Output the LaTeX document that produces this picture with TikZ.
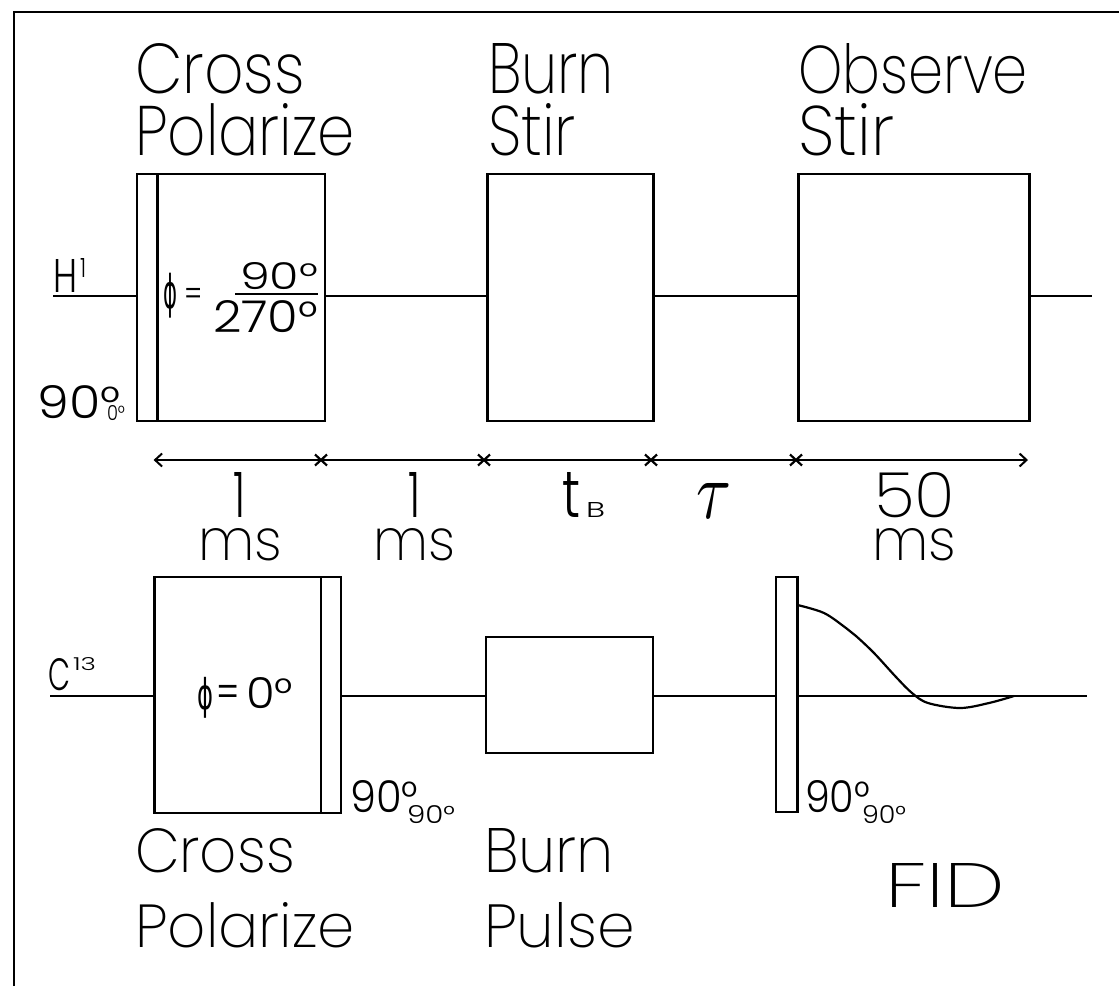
\documentclass[tikz,border=0pt]{standalone}
\usepackage{fontspec}
\usepackage{graphicx}
\usetikzlibrary{arrows.meta}
\newfontfamily\pl{Poppins ExtraLight}
\newfontfamily\plb{Poppins Light}
\newfontfamily\gr{DejaVu Sans}
\newcommand\rb[3]{\resizebox{#1pt}{#2pt}{\pl #3}}
\newcommand\rs[3]{\resizebox{#1pt}{#2pt}{\plb #3}}
\newcommand\rg[3]{\resizebox*{#1pt}{#2pt}{\gr #3}}
\begin{document}
\begin{tikzpicture}[x=1pt,y=-1pt,
  box/.style={draw,line width=2.9pt,inner sep=0pt,outer sep=0pt},
  txt/.style={inner sep=0pt,outer sep=0pt,anchor=base west},
  gtx/.style={inner sep=0pt,outer sep=0pt,anchor=north west},
  wire/.style={line width=2.6pt},
  tick/.style={line width=2.2pt},
  timeline/.style={line width=2pt,{Straight Barb[length=7pt,width=13pt]}-{Straight Barb[length=7pt,width=13pt]}}]
\useasboundingbox (0,0) rectangle (1119,986);
% frame
\coordinate (fb) at (14,986);
\coordinate (fc) at (14,12);
\coordinate (fr) at (1119,12);
\draw[line width=2.8pt] (fb) -- (fc) -- (fr);

% ---------- H row ----------
\node[box,minimum width=188pt,minimum height=247pt] (hcp) at (231,297.5) {};
\node[box,minimum width=166pt,minimum height=247pt] (hbs) at (570.5,297.5) {};
\node[box,minimum width=231pt,minimum height=247pt] (hobs) at (914,297.5) {};
\draw[line width=2.6pt] ([xshift=20.5pt]hcp.north west) -- ([xshift=20.5pt]hcp.south west);
\coordinate (hs) at (53,296);
\coordinate (he) at (1092,296);
\draw[wire] (hs) -- (hs -| hcp.west);
\draw[wire] (hs -| hcp.east) -- (hs -| hbs.west);
\draw[wire] (hs -| hbs.east) -- (hs -| hobs.west);
\draw[wire] (hs -| hobs.east) -- (he);

\node[txt] (hlab) at (53,292) {\rs{24}{33}{H}};
\node[txt] (hsup) at (80,277) {\rs{6}{19}{1}};

\node[txt] (crossT) at (135,93) {\rb{170}{50}{Cross}};
\node[txt] (polT) at (135,155) {\rb{220}{52}{Polarize}};
\node[txt] (burnT) at (488,93) {\rb{126}{50}{Burn}};
\node[txt] (stirB) at (488,155) {\rb{88}{52}{Stir}};
\node[txt] (obsT) at (798,93) {\rb{230}{50}{Observe}};
\node[txt] (stirO) at (798,155) {\rb{96}{52}{Stir}};

% phase label in H box
\node[gtx] (phiH) at (163,273) {\rg{14}{45}{ϕ}};
\node[txt] (eqH) at (184,306) {\scalebox{0.75}[1]{\fontsize{36}{36}\plb =}};
\node[txt] (numH) at (240,289) {\rs{78}{27}{90°}};
\node[txt] (denH) at (213,332) {\rs{105}{32}{270°}};
\coordinate (fbl) at (235,294);
\coordinate (fbr) at (318,294);
\draw[line width=2.4pt] (fbl) -- (fbr);

% 90 deg label left
\node[txt] (l90a) at (37.5,418) {\rs{83}{33}{90°}};
\node[txt] (l90c) at (107,420) {\rs{18}{15}{0°}};

% ---------- timeline ----------
\coordinate (tl) at (153.6,460);
\coordinate (tr) at (1028,460);
\draw[timeline] (tl) -- (tr);
\foreach \x/\n in {321/a,484/b,651/c,796/d}{
  \coordinate (tk\n) at (\x,460);
  \draw[tick] ([shift={(-6pt,-5.5pt)}]tk\n) -- ([shift={(6pt,5.5pt)}]tk\n);
  \draw[tick] ([shift={(-6pt,5.5pt)}]tk\n) -- ([shift={(6pt,-5.5pt)}]tk\n);
}
\node[txt] (one1) at (233,517) {\rs{12}{45}{1}};
\node[txt] (ms1) at (198,560) {\rb{84}{32}{ms}};
\node[txt] (one2) at (408,517) {\rs{12}{45}{1}};
\node[txt] (ms2) at (373,560) {\rb{82}{32}{ms}};
\node[txt] (tt) at (562,517) {\rs{18}{45}{t}};
\node[txt] (tsub) at (586,517) {\rs{19}{15}{B}};
\node[txt] (tau) at (696,518) {\resizebox{35pt}{35pt}{$\tau$}};
\node[txt] (fifty) at (874,517) {\rb{81}{45}{50}};
\node[txt] (ms3) at (872,560) {\rb{84}{32}{ms}};

% ---------- C row ----------
\node[box,minimum width=186.4pt,minimum height=236pt] (ccp) at (247.8,695) {};
\node[box,minimum width=167pt,minimum height=116pt] (cbp) at (569.5,695) {};
\node[box,minimum width=21.5pt,minimum height=235pt] (cp90) at (786.75,694.5) {};
\draw[line width=2.6pt] ([xshift=-20pt]ccp.north east) -- ([xshift=-20pt]ccp.south east);
\coordinate (cs) at (50,696);
\coordinate (ce) at (1087,696);
\draw[wire] (cs) -- (cs -| ccp.west);
\draw[wire] (cs -| ccp.east) -- (cs -| cbp.west);
\draw[wire] (cs -| cbp.east) -- (cs -| cp90.west);
\draw[wire] (cs -| cp90.east) -- (ce);

\node[txt] (clab) at (48,690) {\rs{22}{32}{C}};
\node[txt] (csup) at (73,670) {\rs{23}{13}{13}};

\node[gtx] (phiC) at (197,677) {\rg{16}{41}{ϕ}};
\node[txt] (eqC) at (216,708) {\scalebox{0.75}[1]{\fontsize{46}{46}\plb =}};
\node[txt] (zeroC) at (246,708) {\rs{47}{31}{0°}};

% 90 deg labels
\node[txt] (m90a) at (350,812) {\rs{68}{32}{90°}};
\node[txt] (m90c) at (407,823) {\rs{48}{18}{90°}};
\node[txt] (r90a) at (805,812) {\rs{65}{32}{90°}};
\node[txt] (r90c) at (862,823) {\rs{44}{18}{90°}};

% FID
\draw[line width=2.2pt] plot[smooth,tension=0.55] coordinates {
  (797.5,605) (824,613) (846,628) (856,636) (874,653) (896,677)
  (912,693) (928,703) (960,708) (989,703) (1014,696)};

% bottom labels
\node[txt] (crossB) at (135,872) {\rb{160}{44}{Cross}};
\node[txt] (polB) at (135,947) {\rb{220}{45}{Polarize}};
\node[txt] (burnB) at (484,872) {\rb{130}{44}{Burn}};
\node[txt] (pulseB) at (484,947) {\rb{151}{45}{Pulse}};
\node[txt] (fid) at (885,907) {\rb{120}{44}{FID}};
\end{tikzpicture}
\end{document}
